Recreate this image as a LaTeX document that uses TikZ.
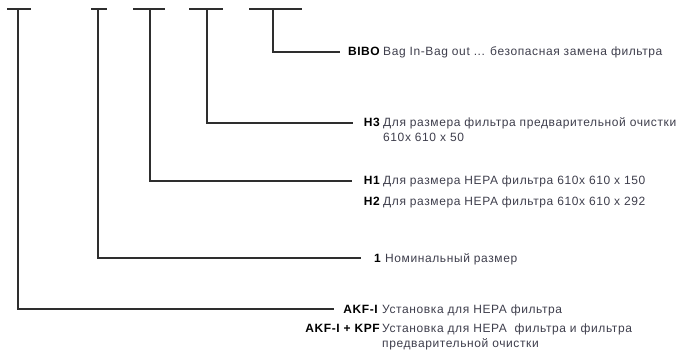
\documentclass[tikz,border=0pt]{standalone}
\usepackage{fontspec}
\setmainfont[LetterSpace=5]{Liberation Sans}
\usepackage{xcolor}
\usepackage{tikz}
\usetikzlibrary{positioning}
\definecolor{linegray}{HTML}{2E2E2E}
\definecolor{descgray}{HTML}{3E3E4C}

\begin{document}
\begin{tikzpicture}[
    x=1pt, y=-1pt,
    bar/.style={line width=1.4pt, draw=linegray},
    lead/.style={line width=1.4pt, draw=linegray},
    code/.style={
      font=\fontsize{12}{13}\selectfont\bfseries,
      text=black, inner sep=0pt, anchor=base east
    },
    desc/.style={
      font=\fontsize{12}{13}\selectfont,
      text=descgray, inner sep=0pt, anchor=base west
    }
  ]

    % ── canvas ────────────────────────────────────────────────────────────
    \useasboundingbox (0,0) rectangle (693,363);

    % ── T-bars at the top (one per field of the type key) ────────────────
    \coordinate (t_akf)  at (18, 9);
    \coordinate (t_size) at (98, 9);
    \coordinate (t_hepa) at (150,9);
    \coordinate (t_pre)  at (207,9);
    \coordinate (t_bibo) at (273,9);

    \draw[bar] (7,9)   -- (31,9);
    \draw[bar] (91,9)  -- (107,9);
    \draw[bar] (133,9) -- (165,9);
    \draw[bar] (189,9) -- (223,9);
    \draw[bar] (249,9) -- (302,9);

    % ── BIBO ──────────────────────────────────────────────────────────────
    \node[code] (c_bibo) at (380, 56) {BIBO};
    \node[desc] (d_bibo) at (383, 56) {Bag In-Bag out ... безопасная замена фильтра};

    % ── H3 ────────────────────────────────────────────────────────────────
    \node[code] (c_h3)  at (380, 127) {H3};
    \node[desc] (d_h3)  at (383, 127) {Для размера фильтра предварительной очистки};
    \node[desc] (d_h3b) at (383, 142) {610x 610 x 50};

    % ── H1 / H2 ───────────────────────────────────────────────────────────
    \node[code] (c_h1) at (380, 185) {H1};
    \node[desc] (d_h1) at (383, 185) {Для размера HEPA фильтра 610x 610 x 150};
    \node[code] (c_h2) at (380, 206) {H2};
    \node[desc] (d_h2) at (383, 206) {Для размера HEPA фильтра 610x 610 x 292};

    % ── nominal size ──────────────────────────────────────────────────────
    \node[code] (c_one) at (381, 262) {1};
    \node[desc] (d_one) at (385, 262) {Номинальный размер};

    % ── AKF-I / AKF-I + KPF ───────────────────────────────────────────────
    \node[code] (c_akf)  at (378, 313) {AKF-I};
    \node[desc] (d_akf)  at (382, 313) {Установка для HEPA фильтра};
    \node[code] (c_kpf)  at (380, 332) {AKF-I + KPF};
    \node[desc] (d_kpf)  at (382, 332) {Установка для HEPA\ \ фильтра и фильтра};
    \node[desc] (d_kpfb) at (382, 347) {предварительной очистки};

    % ── leader lines ──────────────────────────────────────────────────────
    \draw[lead] (t_bibo) |- ([xshift=-8pt]c_bibo.west);
    \draw[lead] (t_pre)  |- ([xshift=-11pt]c_h3.west);
    \draw[lead] (t_hepa) |- ([xshift=-12pt]c_h1.west);
    \draw[lead] (t_size) |- ([xshift=-13pt]c_one.west);
    \draw[lead] (t_akf)  |- ([xshift=-9pt]c_akf.west);

  \end{tikzpicture}
\end{document}
